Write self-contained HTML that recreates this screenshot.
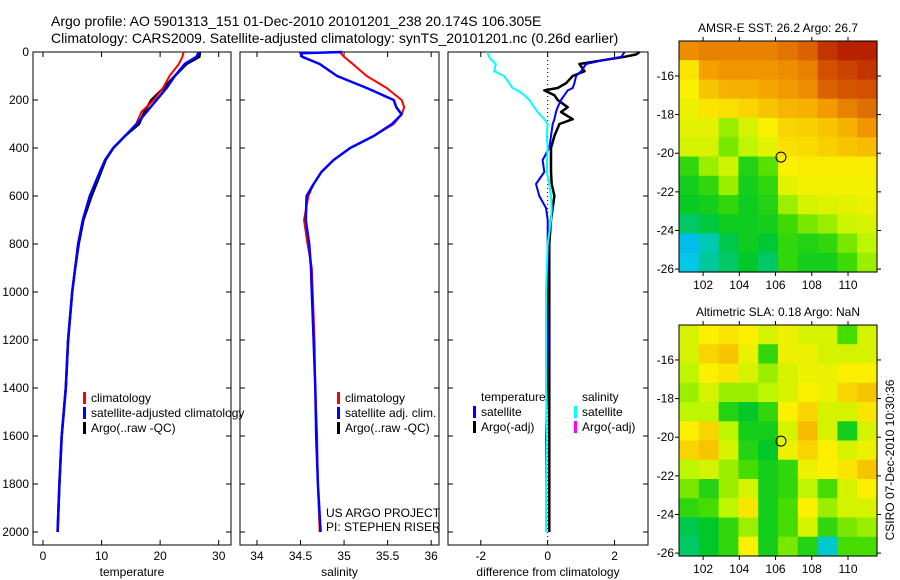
<!DOCTYPE html>
<html><head><meta charset="utf-8">
<style>
body{margin:0;background:#fff;}
svg{display:block;font-family:"Liberation Sans",sans-serif;}
</style></head>
<body>
<svg id="fig" width="900" height="580" viewBox="0 0 900 580" xmlns="http://www.w3.org/2000/svg">
<text x="51" y="26" font-size="14">Argo profile: AO 5901313_151 01-Dec-2010 20101201_238 20.174S 106.305E</text>
<text x="51" y="43" font-size="14">Climatology: CARS2009. Satellite-adjusted climatology: synTS_20101201.nc (0.26d earlier)</text>
<g id="plots"></g>
</svg>
<script>
// ---- data ----
const depthT = [0,20,50,100,150,200,250,300,350,400,450,500,600,700,800,900,1000,1200,1400,1600,1800,2000];
const tempClim = [24.0,23.8,23.2,21.6,20.5,18.9,16.8,15.9,14.0,12.0,10.6,9.7,8.0,6.8,6.0,5.5,5.0,4.3,3.9,3.2,2.8,2.5];
const tempSat  = [26.6,26.2,24.2,22.5,21.1,19.4,17.7,16.0,14.0,12.0,10.6,9.7,8.0,6.8,6.0,5.5,5.0,4.3,3.9,3.2,2.8,2.5];
const tempArgo = [26.8,26.7,24.5,22.5,20.6,18.5,17.3,16.4,14.0,12.0,10.7,9.9,8.3,6.9,6.1,5.5,5.0,4.3,3.9,3.2,2.8,2.5];
const depthS = [0,5,20,50,100,150,200,230,260,300,350,400,450,500,550,600,700,800,900,1000,1200,1400,1600,1800,2000];
const salClim = [34.95,34.96,35.0,35.1,35.26,35.49,35.66,35.69,35.66,35.57,35.34,35.07,34.88,34.74,34.65,34.59,34.54,34.58,34.63,34.64,34.66,34.67,34.69,34.7,34.72];
const salSat  = [34.98,34.5,34.52,34.72,34.92,35.26,35.57,35.6,35.66,35.55,35.34,35.07,34.88,34.74,34.65,34.57,34.56,34.6,34.62,34.63,34.65,34.67,34.68,34.7,34.73];
const depthD = [0,10,20,30,50,80,100,130,150,160,180,200,230,250,280,300,350,400,450,500,550,600,650,700,800,1000,1200,1400,1600,1800,2000];
const diffSalSat  = [-1.8,-1.78,-1.75,-1.7,-1.55,-1.6,-1.3,-1.15,-1.05,-0.9,-0.7,-0.55,-0.4,-0.3,-0.1,0.0,-0.03,0.0,-0.02,-0.02,0.05,0.1,0.12,0.1,0.0,-0.05,-0.05,-0.05,-0.03,-0.05,-0.05];
const diffTempSat = [2.3,2.25,2.2,1.8,1.15,1.0,0.85,0.8,0.75,0.6,0.5,0.4,0.3,0.25,0.2,0.15,0.1,0.05,-0.15,-0.1,-0.35,-0.25,-0.05,0.0,0.0,-0.02,0.0,-0.02,-0.05,-0.05,-0.05];
const diffTempArgo= [2.75,2.65,2.3,1.85,0.95,1.1,0.75,0.55,0.3,-0.1,0.2,0.3,0.6,0.4,0.75,0.35,0.2,0.1,0.1,0.1,0.12,0.2,0.15,0.1,0.05,0.05,0.05,0.05,0.05,0.05,0.05];
const depthTicks = [0,200,400,600,800,1000,1200,1400,1600,1800,2000];
const tempTicks = [0,10,20,30];
const salTicks = [34,34.5,35,35.5,36];
const diffTicks = [-2,0,2];
// maps: rows top (north) to bottom (south), 10 columns west->east
const sstGrid = [
[0.78,0.8,0.8,0.8,0.8,0.82,0.85,0.92,0.95,0.95],
[0.62,0.75,0.77,0.77,0.77,0.78,0.8,0.88,0.9,0.92],
[0.6,0.68,0.72,0.72,0.74,0.76,0.78,0.85,0.87,0.88],
[0.58,0.62,0.63,0.65,0.68,0.71,0.72,0.76,0.8,0.83],
[0.57,0.57,0.5,0.55,0.6,0.65,0.66,0.68,0.72,0.77],
[0.55,0.55,0.48,0.52,0.57,0.63,0.64,0.66,0.68,0.7],
[0.42,0.5,0.54,0.4,0.46,0.6,0.61,0.61,0.61,0.61],
[0.38,0.42,0.5,0.38,0.42,0.57,0.59,0.59,0.59,0.59],
[0.36,0.38,0.42,0.37,0.4,0.5,0.55,0.56,0.57,0.58],
[0.3,0.33,0.37,0.37,0.38,0.44,0.48,0.5,0.54,0.55],
[0.18,0.24,0.32,0.37,0.34,0.42,0.4,0.42,0.48,0.52],
[0.2,0.26,0.3,0.35,0.3,0.42,0.38,0.38,0.44,0.5]];
const slaGrid = [
[0.55,0.6,0.62,0.6,0.55,0.58,0.55,0.55,0.45,0.55],
[0.55,0.65,0.68,0.58,0.42,0.58,0.58,0.55,0.55,0.55],
[0.52,0.6,0.62,0.55,0.5,0.55,0.58,0.58,0.6,0.6],
[0.5,0.55,0.5,0.5,0.52,0.55,0.6,0.58,0.65,0.68],
[0.52,0.52,0.4,0.35,0.42,0.6,0.65,0.55,0.55,0.62],
[0.6,0.65,0.52,0.38,0.38,0.55,0.7,0.55,0.38,0.55],
[0.65,0.68,0.55,0.4,0.35,0.58,0.65,0.6,0.55,0.58],
[0.52,0.55,0.5,0.45,0.38,0.42,0.58,0.6,0.62,0.68],
[0.48,0.4,0.5,0.55,0.38,0.42,0.52,0.45,0.55,0.6],
[0.42,0.45,0.52,0.62,0.38,0.45,0.6,0.5,0.55,0.55],
[0.32,0.35,0.42,0.5,0.38,0.45,0.55,0.42,0.48,0.5],
[0.3,0.35,0.42,0.6,0.38,0.48,0.4,0.22,0.45,0.45]];
const lonTicks = [102,104,106,108,110];
const latTicks = [-16,-18,-20,-22,-24,-26];
const argoPos = [106.3,-20.2];

// ---- drawing ----
const NS='http://www.w3.org/2000/svg';
const root=document.getElementById('plots');
function mk(tag,attrs,parent){const e=document.createElementNS(NS,tag);for(const k in attrs)e.setAttribute(k,attrs[k]);(parent||root).appendChild(e);return e;}
function txt(x,y,s,size,anchor,parent){const t=mk('text',{x:x,y:y,'font-size':size,'text-anchor':anchor||'start'},parent);t.textContent=s;return t;}
const yTop=52, yPix=0.24, boxBottom=545;
const yD=d=>yTop+yPix*d;

function panel(name,x0,x1,xmin,xmax,ticks,xlabel,leftLabels){
  const g=mk('g',{});
  
  
  const sx=v=>x0+(v-xmin)/(xmax-xmin)*(x1-x0);
  const r=mk('rect',{x:x0,y:yTop,width:x1-x0,height:boxBottom-yTop,fill:'none',stroke:'#000','stroke-width':1},g);
  
  
  depthTicks.forEach(d=>{
    mk('line',{x1:x0,x2:x0+5,y1:yD(d),y2:yD(d),stroke:'#000'},g);
    mk('line',{x1:x1,x2:x1-5,y1:yD(d),y2:yD(d),stroke:'#000'},g);
    if(leftLabels){const t=txt(x0-4,yD(d)+4,String(d),12,'end',g);
      
      }
  });
  ticks.forEach(v=>{
    mk('line',{x1:sx(v),x2:sx(v),y1:yTop,y2:yTop+5,stroke:'#000'},g);
    mk('line',{x1:sx(v),x2:sx(v),y1:boxBottom,y2:boxBottom-5,stroke:'#000'},g);
    const t=txt(sx(v),560,String(v),12,'middle',g);
    
    
  });
  const xl=txt((x0+x1)/2,576,xlabel,12,'middle',g);
  
  
  return {g,sx};
}
function series(p,depths,vals,color,w,nm){
  const pts=depths.map((d,i)=>p.sx(vals[i]).toFixed(1)+','+yD(d).toFixed(1)).join(' ');
  const l=mk('polyline',{points:pts,fill:'none',stroke:color,'stroke-width':w,'stroke-linejoin':'round'},p.g);
  
  
}
function legend(g,x,y,items){
  items.forEach((it,i)=>{
    mk('rect',{x:x,y:y+i*15-10,width:3,height:12,fill:it[1]},g);
    const t=txt(x+8,y+i*15,it[0],12,'start',g);
    
    
  });
}

const p1=panel('temperature',33,231,-1.7,32.1,tempTicks,'temperature',true);
series(p1,depthT,tempArgo,'#000',2.5,'temperature-argo-line');
series(p1,depthT,tempClim,'#f00',2,'temperature-climatology-line');
series(p1,depthT,tempSat,'#00f',2.5,'temperature-satellite-line');
legend(p1.g,83,402,[['climatology','#f00'],['satellite-adjusted climatology','#00f'],['Argo(..raw -QC)','#000']]);

const p2=panel('salinity',240,439,33.805,36.09,salTicks,'salinity',false);
series(p2,depthS,salClim,'#f00',2,'salinity-climatology-line');
series(p2,depthS,salSat,'#00f',2.5,'salinity-satellite-line');
legend(p2.g,337,402,[['climatology','#f00'],['satellite adj. clim.','#00f'],['Argo(..raw -QC)','#000']]);
let t=txt(326,517,'US ARGO PROJECT',12,'start',p2.g);


t=txt(326,531,'PI: STEPHEN RISER',12,'start',p2.g);



const p3=panel('difference',448,648,-2.98,3.0,diffTicks,'difference from climatology',false);
mk('line',{x1:p3.sx(0),x2:p3.sx(0),y1:yTop,y2:boxBottom,stroke:'#000','stroke-dasharray':'1,3'},p3.g);
series(p3,depthD,diffTempArgo,'#000',2.5,'temp-argo-diff-line');
series(p3,depthD,diffTempSat,'#00f',2,'temp-satellite-diff-line');
series(p3,depthD,diffSalSat,'#0ff',2,'salinity-satellite-diff-line');
t=txt(481,401,'temperature',12,'start',p3.g);


t=txt(582,401,'salinity',12,'start',p3.g);


legend(p3.g,473,416,[['satellite','#00f'],['Argo(-adj)','#000']]);
legend(p3.g,574,416,[['satellite','#0ff'],['Argo(-adj)','#f0f']]);

// colormap
const stops=[[0,[0,90,255]],[0.2,[0,200,230]],[0.35,[0,200,40]],[0.45,[70,220,0]],[0.52,[190,245,0]],[0.6,[250,240,0]],[0.75,[245,160,0]],[0.88,[210,80,0]],[1,[165,0,0]]];
function cmap(v){v=Math.max(0,Math.min(1,v));for(let i=1;i<stops.length;i++){if(v<=stops[i][0]){const a=stops[i-1],b=stops[i],f=(v-a[0])/(b[0]-a[0]);return 'rgb('+a[1].map((c,k)=>Math.round(c+(b[1][k]-c)*f)).join(',')+')';}}return 'rgb(165,0,0)';}

function map(name,grid,x0,x1,y0,y1,title){
  const g=mk('g',{});
  
  
  const lon0=100.67,lon1=111.6,lat0=-14.19,lat1=-26.15;
  const sx=v=>x0+(v-lon0)/(lon1-lon0)*(x1-x0);
  const sy=v=>y0+(v-lat0)/(lat1-lat0)*(y1-y0);
  const nr=grid.length,nc=grid[0].length;
  const dlon=(lon1-lon0)/nc,dlat=(lat1-lat0)/nr;
  grid.forEach((row,i)=>row.forEach((v,j)=>{
    const xa=sx(lon0+j*dlon),xb=sx(lon0+(j+1)*dlon),ya=sy(lat0+i*dlat),yb=sy(lat0+(i+1)*dlat);
    const c=mk('rect',{x:xa,y:ya,width:xb-xa+0.6,height:yb-ya+0.6,fill:cmap(v)},g);
    
    
  }));
  mk('rect',{x:x0,y:y0,width:x1-x0,height:y1-y0,fill:'none',stroke:'#000'},g);
  lonTicks.forEach(v=>{
    mk('line',{x1:sx(v),x2:sx(v),y1:y0,y2:y0-4,stroke:'#000'},g);
    mk('line',{x1:sx(v),x2:sx(v),y1:y1,y2:y1+4,stroke:'#000'},g);
    const l=txt(sx(v),y1+17,String(v),12,'middle',g);
    
    
  });
  latTicks.forEach(v=>{
    mk('line',{x1:x0,x2:x0-4,y1:sy(v),y2:sy(v),stroke:'#000'},g);
    mk('line',{x1:x1,x2:x1+4,y1:sy(v),y2:sy(v),stroke:'#000'},g);
    const l=txt(x0-5,sy(v)+4,String(v),12,'end',g);
    
    
  });
  const m=mk('circle',{cx:sx(argoPos[0]),cy:sy(argoPos[1]),r:5,fill:'none',stroke:'#000'},g);
  
  
  const tt=txt((x0+x1)/2,y0-9,title,12,'middle',g);
  
  
}
map('sst-map',sstGrid,679,877,41,272,'AMSR-E SST: 26.2 Argo: 26.7');
map('sla-map',slaGrid,679,877,325,556,'Altimetric SLA: 0.18 Argo: NaN');
t=txt(0,0,'CSIRO 07-Dec-2010 10:30:36',12,'middle');
t.setAttribute('transform','translate(894,460) rotate(-90)');


</script>
</body></html>
